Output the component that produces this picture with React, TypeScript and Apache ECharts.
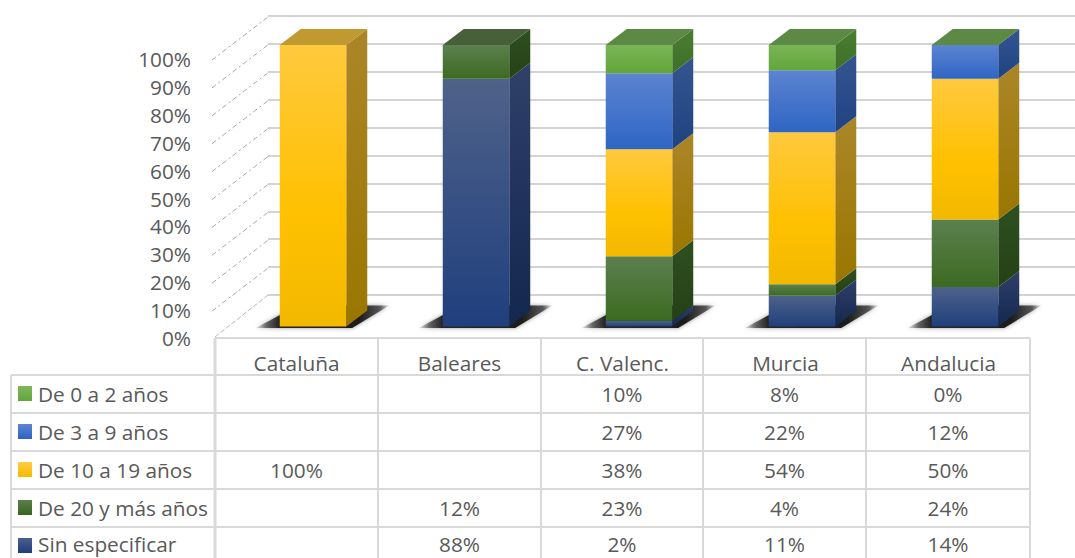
import React, { useEffect, useRef } from "react";
import * as echarts from "echarts";

const categories = ["Cataluña", "Baleares", "C. Valenc.", "Murcia", "Andalucia"];
const seriesNames = ["Sin especificar", "De 20 y más años", "De 10 a 19 años", "De 3 a 9 años", "De 0 a 2 años"];
const sinEspecificar = [null, 88, 2, 11, 14];
const de20 = [null, 12, 23, 4, 24];
const de10a19 = [100, null, 38, 54, 50];
const de3a9 = [null, null, 27, 22, 12];
const de0a2 = [null, null, 10, 8, 0];
const yTicks = [0, 10, 20, 30, 40, 50, 60, 70, 80, 90, 100];
const valueSets = [sinEspecificar, de20, de10a19, de3a9, de0a2];

const FONT = "'Open Sans'";
const FS = 20.8;
const TXT = "#595959";
const LINE = "#d9d9d9";

const palette = [
  { front: ["#4f6289", "#1f3f7d"], side: ["#2f4069", "#13274f"], top: "#3c4f78", legend: ["#4a5f8c", "#1f3e7c"] },
  { front: ["#5c8050", "#3c6a20"], side: ["#2e5020", "#254016"], top: "#47603a", legend: ["#5c7f4c", "#3a661f"] },
  { front: ["#ffc93e", "#ffc000", "#f2b900"], side: ["#ab8628", "#9a7600"], top: "#c09a30", legend: ["#ffcb45", "#f5bb00"] },
  { front: ["#5c84d0", "#2f65c4"], side: ["#34558f", "#1f4282"], top: "#47679c", legend: ["#5f86d2", "#2c62c2"] },
  { front: ["#7ab556", "#63a63a"], side: ["#4a7d32", "#3f6f28"], top: "#5c8a45", legend: ["#7fb75c", "#62a539"] },
];

const DX = 21;
const DY = -16;
const BAR = 66.5;
const grad = (c: string[]) => ({
  type: "linear", x: 0, y: 0, x2: 0, y2: 1,
  colorStops: c.map((color, k) => ({ offset: c.length === 3 ? [0, 0.6, 1][k] : k, color })),
});

// 100% stacked ranges: the printed table is rounded, so the top segment closes each column at 100
const stackData = valueSets.map((vals, si) =>
  vals.map((v, i) => {
    if (v === null) return [i, null, null, 0];
    const low = valueSets.slice(0, si).reduce((s, o) => s + (o[i] ?? 0), 0);
    const topmost = !valueSets.slice(si + 1).some((o) => o[i] !== null);
    return [i, low, topmost ? 100 : low + v, topmost ? 1 : 0];
  })
);

const renderSegment = (si: number) => (params: any, api: any) => {
  const low = api.value(1);
  const high = api.value(2);
  if (low === null || high === null || Number.isNaN(low) || Number.isNaN(high)) return null;
  const i = api.value(0);
  const [cx, y0] = api.coord([i, low]);
  const [, y1] = api.coord([i, high]);
  const x0 = cx - BAR / 2;
  const x1 = cx + BAR / 2;
  const p = palette[si];
  const children: any[] = [];
  if (y0 - y1 > 0.1) {
    children.push({
      type: "polygon",
      shape: { points: [[x1, y0], [x1 + DX, y0 + DY], [x1 + DX, y1 + DY], [x1, y1]] },
      style: { fill: grad(p.side) },
    });
    children.push({
      type: "rect",
      shape: { x: x0, y: y1, width: BAR, height: y0 - y1 },
      style: { fill: grad(p.front) },
    });
  }
  if (api.value(3) === 1) {
    children.push({
      type: "polygon",
      shape: { points: [[x0, y1], [x0 + DX, y1 + DY], [x1 + DX, y1 + DY], [x1, y1]] },
      style: { fill: p.top },
    });
  }
  return { type: "group", children };
};

const renderShadow = (params: any, api: any) => {
  const [cx, y0] = api.coord([api.value(0), 0]);
  const x0 = cx - BAR / 2;
  const x1 = cx + BAR / 2;
  return {
    type: "polygon",
    shape: { points: [[x0 - 24, y0 + 1.5], [x1 + 6, y0 + 1.5], [x1 + 43, y0 - 21], [x0 + 18, y0 - 21]] },
    style: {
      fill: {
        type: "linear", x: 0, y: 0, x2: 1, y2: 0,
        colorStops: [
          { offset: 0, color: "rgba(80,80,80,0.1)" },
          { offset: 0.08, color: "rgba(60,60,60,0.7)" },
          { offset: 0.17, color: "rgba(40,40,40,1)" },
          { offset: 0.78, color: "rgba(30,30,30,1)" },
          { offset: 0.93, color: "rgba(60,60,60,0.8)" },
          { offset: 1, color: "rgba(80,80,80,0.1)" },
        ],
      },
      shadowBlur: 4,
      shadowColor: "rgba(70,70,70,0.6)",
    },
  };
};

const renderWallTick = (params: any, api: any) => {
  const [, y] = api.coord([0, api.value(0)]);
  return {
    type: "line",
    shape: { x1: 212, y1: y + 1, x2: 268, y2: y - 42 },
    style: { stroke: "#a8a8a8", lineWidth: 1, lineDash: [5, 3, 2, 3], fill: "none" },
  };
};

function buildTable() {
  const colX = [215, 378, 541, 703, 866, 1030];
  const rowY = [375, 413, 451, 489, 527];
  const els: any[] = [];
  const line = (x1: number, y1: number, x2: number, y2: number, w = 2) =>
    els.push({ type: "line", shape: { x1, y1, x2, y2 }, style: { stroke: LINE, lineWidth: w } });
  line(215, 338, 1030, 338);
  colX.forEach((x, k) => line(x, 338, x, 558, k === 0 ? 3 : 2));
  line(11, 375, 11, 558);
  rowY.forEach((y) => line(11, y, 1030, y));
  const order = [4, 3, 2, 1, 0];
  order.forEach((si, r) => {
    const cy = rowY[r] + 19;
    // the last row sits against the picture's lower edge: nudged so its text box stays inside
    const ty = r === 4 ? cy - 2 : cy;
    els.push({
      type: "rect",
      shape: { x: 18, y: cy - 8, width: 14, height: 15 },
      style: { fill: grad(palette[si].legend) },
    });
    els.push({
      type: "text", x: 38, y: ty,
      style: { text: seriesNames[si], fill: TXT, font: `${FS}px ${FONT}`, textAlign: "left", textVerticalAlign: "middle" },
    });
    valueSets[si].forEach((v, i) => {
      if (v === null) return;
      els.push({
        type: "text", x: (colX[i] + colX[i + 1]) / 2, y: ty,
        style: { text: `${v}%`, fill: TXT, font: `${FS}px ${FONT}`, textAlign: "center", textVerticalAlign: "middle" },
      });
    });
  });
  // floor front-left edge
  els.push({
    type: "line",
    shape: { x1: 215, y1: 337, x2: 268, y2: 295 },
    style: { stroke: "#b8b8b8", lineWidth: 1, lineDash: [5, 2] },
  });
  return els;
}

export default function App() {
  const ref = useRef<HTMLDivElement>(null);
  useEffect(() => {
    const chart = echarts.init(ref.current!, undefined, { renderer: "svg" });
    const hiddenCat = (gridIndex: number) => ({
      type: "category", gridIndex, data: categories,
      axisLine: { show: false }, axisTick: { show: false }, axisLabel: { show: false }, splitLine: { show: false },
    });
    chart.setOption({
      animation: false,
      backgroundColor: "#ffffff",
      grid: [
        { left: 215, right: 45, top: 59, height: 279 },   // front plane: the labelled axes
        { left: 231.5, right: 28.5, top: 45, height: 281.5 }, // plane the bars stand on
        { left: 268, right: 0, top: 16, height: 279 },    // back wall
      ],
      xAxis: [
        {
          type: "category", gridIndex: 0, data: categories,
          axisLine: { show: false }, axisTick: { show: false }, splitLine: { show: false },
          axisLabel: { color: TXT, fontFamily: FONT, fontSize: FS, margin: 14, interval: 0 },
        },
        hiddenCat(1),
        hiddenCat(2),
      ],
      yAxis: [
        {
          type: "value", gridIndex: 0, min: 0, max: 100, interval: 10,
          axisLine: { show: false }, axisTick: { show: false }, splitLine: { show: false },
          axisLabel: { color: TXT, fontFamily: FONT, fontSize: FS, margin: 24, formatter: "{value}%" },
        },
        {
          type: "value", gridIndex: 1, min: 0, max: 100, interval: 10,
          axisLine: { show: false }, axisTick: { show: false }, splitLine: { show: false }, axisLabel: { show: false },
        },
        {
          type: "value", gridIndex: 2, min: 0, max: 100, interval: 10,
          axisLine: { show: false }, axisTick: { show: false }, axisLabel: { show: false },
          splitLine: { show: true, lineStyle: { color: "#c4c4c4", width: 1.5 } },
        },
      ],
      series: [
        {
          type: "custom", xAxisIndex: 0, yAxisIndex: 0, silent: true, z: 1,
          data: yTicks.slice(1).map((t) => [t]),
          encode: { y: 0 },
          renderItem: renderWallTick,
        },
        {
          type: "custom", xAxisIndex: 1, yAxisIndex: 1, silent: true, z: 2,
          data: categories.map((_, i) => [i]),
          encode: { x: 0 },
          renderItem: renderShadow,
        },
        ...seriesNames.map((name, si) => ({
          type: "custom", name, xAxisIndex: 1, yAxisIndex: 1, z: 3 + si,
          data: stackData[si],
          encode: { x: 0, y: [1, 2] },
          renderItem: renderSegment(si),
        })),
      ],
      graphic: { elements: buildTable() },
    });
    return () => chart.dispose();
  }, []);
  return <div ref={ref} style={{ position: "fixed", left: 0, top: 0, width: 1075, height: 558 }} />;
}
